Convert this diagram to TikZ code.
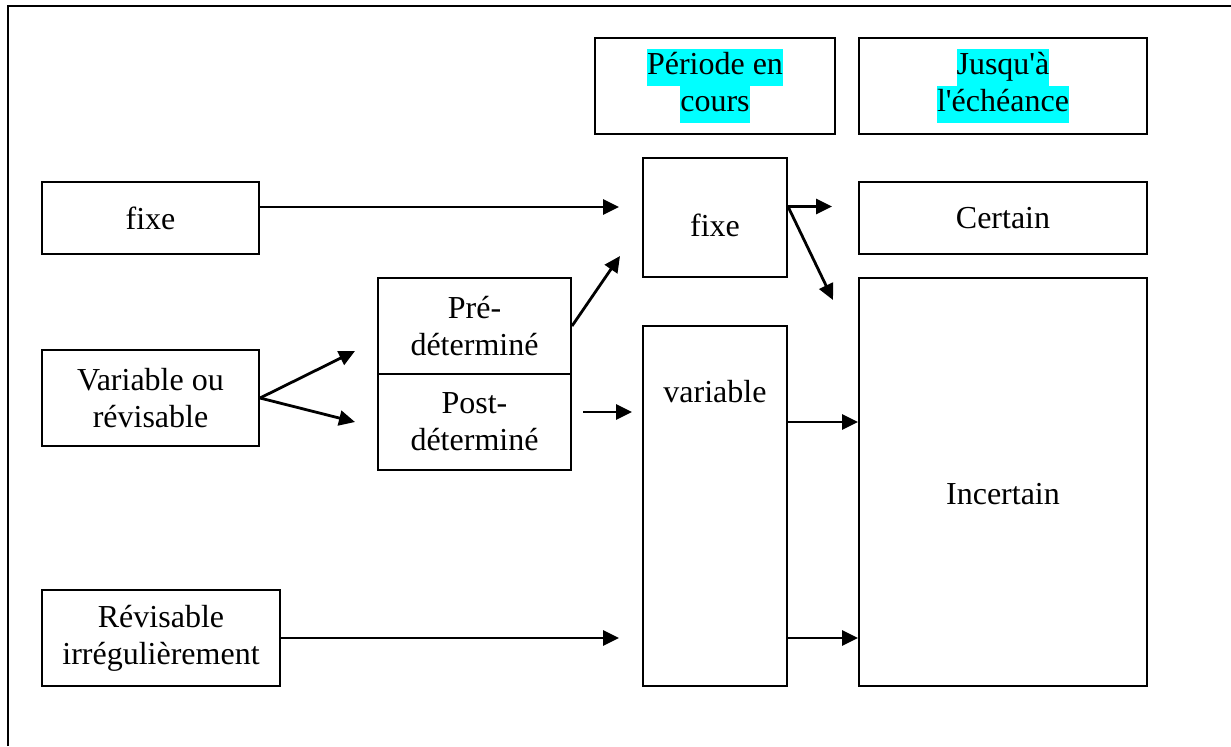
\documentclass[tikz,border=0pt]{standalone}
\usepackage{fontspec}
\setmainfont{Liberation Serif}
\usetikzlibrary{arrows.meta}
\definecolor{hilite}{RGB}{0,255,255}
\newcommand{\hl}[1]{{\setlength{\fboxsep}{0pt}\colorbox{hilite}{\strut #1}}}

\tikzset{
  box/.style={draw, line width=1pt, inner sep=0pt, align=center},
  arr/.style={line width=1.4pt, -{Triangle[length=8pt,width=7.5pt]}},
  every node/.style={font=\fontsize{16}{18.5}\selectfont}
}

\begin{document}
\begin{tikzpicture}[x=0.5pt,y=-0.5pt]
\useasboundingbox (0,0) rectangle (1231,746);
\draw[line width=1.4pt] (8,746) -- (8,6) -- (1231,6);

% en-tetes
\node[box, minimum width=120pt, minimum height=48pt] (per) at (715,86) {\hl{Période en}\\\hl{cours}};
\node[box, minimum width=144pt, minimum height=48pt] (ech) at (1003,86) {\hl{Jusqu\textquotesingle à}\\\hl{l\textquotesingle échéance}};

% colonne de gauche
\node[box, minimum width=108.5pt, minimum height=36pt] (fixeA) at (150.5,218) {fixe};
\node[box, minimum width=108.5pt, minimum height=48pt] (var) at (150.5,398) {Variable ou\\révisable};
\node[box, minimum width=119pt, minimum height=48pt] (rev) at (161,638) {Révisable\\irrégulièrement};

% pre / post
\node[box, minimum width=96.5pt, minimum height=48pt] (pre) at (474.5,326) {Pré-\\déterminé};
\node[box, minimum width=96.5pt, minimum height=48pt] (post) at (474.5,422) {Post-\\déterminé};

% periode en cours
\node[box, minimum width=72pt, minimum height=59.5pt,
      label={[yshift=-4pt,inner sep=0pt]center:fixe}] (fixeB) at (715,217.5) {};
\node[box, minimum width=72pt, minimum height=180pt,
      label={[anchor=north,yshift=-27.5pt,inner sep=0pt]north:variable}] (varB) at (715,506) {};

% jusqu'a l'echeance
\node[box, minimum width=144pt, minimum height=36pt] (cert) at (1003,218) {Certain};
\node[box, minimum width=144pt, minimum height=204pt,
      label={[yshift=-6pt,inner sep=0pt]center:Incertain}] (inc) at (1003,482) {};

\coordinate (f1) at ([yshift=5.5pt]fixeA.east);
\coordinate (f2) at ([yshift=5.5pt]fixeB.east);
\coordinate (d1) at (833,300);
\coordinate (d2) at (620,256);
\coordinate (v1) at (355,351);
\coordinate (v2) at (355,422);
\coordinate (p1) at (583,412);
\coordinate (p2) at (632,412);

\draw[arr, shorten >=11.5pt] (f1) -- (f1 -| fixeB.west);
\draw[arr, shorten >=13pt] (f2) -- (f2 -| cert.west);
\draw[arr] (f2) -- (d1);
\draw[arr] (pre.east) -- (d2);
\draw[arr] (var.east) -- (v1);
\draw[arr] (var.east) -- (v2);
\draw[arr] (p1) -- (p2);
\draw[arr] (varB.east |- post.east) -- (inc.west |- post.east);
\draw[arr] (varB.east |- rev.east) -- (inc.west |- rev.east);
\draw[arr, shorten >=11.5pt] (rev.east) -- (varB.west |- rev.east);
\end{tikzpicture}
\end{document}
